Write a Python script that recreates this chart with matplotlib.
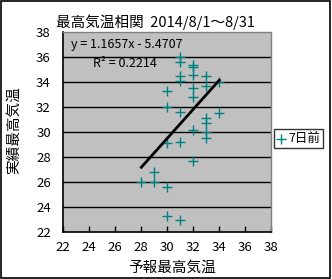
import matplotlib
matplotlib.use("Agg")
import matplotlib.pyplot as plt
from matplotlib.patches import Rectangle

plt.rcParams['font.family'] = ['Noto Sans CJK JP', 'DejaVu Sans']

# forecast (7 days before) vs actual max temperature
forecast = [28,
            29, 29,
            30, 30, 30, 30, 30,
            31, 31, 31, 31, 31, 31, 31,
            32, 32, 32, 32, 32, 32, 32,
            33, 33, 33, 33, 33, 33,
            34, 34]
actual = [26.0,
          26.8, 26.0,
          33.3, 32.0, 29.1, 25.6, 23.3,
          36.0, 35.6, 34.5, 34.1, 31.6, 29.2, 22.9,
          35.4, 35.2, 34.6, 33.5, 32.8, 30.2, 27.7,
          34.5, 33.7, 31.1, 30.7, 30.0, 29.5,
          34.0, 31.5]
slope = 1.1657
intercept = -5.4707
r2 = 0.2214
ticks = [22, 24, 26, 28, 30, 32, 34, 36, 38]
title = "最高気温相関  2014/8/1～8/31"
xlabel = "予報最高気温"
ylabel = "実績最高気温"
series_name = "7日前"

fig = plt.figure(figsize=(3.32, 2.79), dpi=100)
fig.patch.set_facecolor('white')
fig.patches.append(Rectangle((0.002, 0.002), 0.993, 0.994, transform=fig.transFigure,
                             fill=False, edgecolor='black', linewidth=1.2))

ax = fig.add_axes([0.1907, 0.1695, 0.6265, 0.7147])
ax.set_facecolor('#C0C0C0')
ax.set_xlim(22, 38)
ax.set_ylim(22, 38)
ax.set_xticks(ticks)
ax.set_yticks(ticks)
ax.tick_params(axis='x', direction='in', length=4, width=1, labelsize=9.5, pad=7, color='black')
ax.tick_params(axis='y', direction='in', length=0, labelsize=9.5, pad=9)
for y in ticks[1:-1]:
    ax.axhline(y, color='black', linewidth=1, zorder=1)

for s in ['top', 'right']:
    ax.spines[s].set_color('#808080')
    ax.spines[s].set_linestyle((0, (1, 1)))
    ax.spines[s].set_linewidth(1)
for s in ['left', 'bottom']:
    ax.spines[s].set_color('black')
    ax.spines[s].set_linewidth(1.2)

ax.scatter(forecast, actual, marker='+', s=60, color='#008080', linewidths=1, zorder=3,
           label=series_name)

x0, x1 = min(forecast), max(forecast)
ax.plot([x0, x1], [slope * x0 + intercept, slope * x1 + intercept], color='black',
        linewidth=2, zorder=4)

ax.text(0.035, 0.94, f"y = {slope}x - {abs(intercept)}", transform=ax.transAxes,
        fontsize=9, ha='left', va='center')
ax.text(0.145, 0.845, f"R² = {r2}", transform=ax.transAxes,
        fontsize=9, ha='left', va='center')

fig.text(0.468, 0.922, title, fontsize=10.5, ha='center', va='center')
fig.text(0.518, 0.04, xlabel, fontsize=10.5, ha='center', va='center')
fig.text(0.042, 0.535, ylabel, fontsize=10.5, ha='center', va='center', rotation=90)

leg = fig.legend(handles=[ax.collections[0]], labels=[series_name],
                 loc='center', bbox_to_anchor=(0.899, 0.503), fontsize=9,
                 frameon=True, fancybox=False, edgecolor='black', handlelength=0.7,
                 handletextpad=0.2, borderpad=0.25, borderaxespad=0)
leg.get_frame().set_linewidth(1)

fig.savefig('out.png', dpi=100)
